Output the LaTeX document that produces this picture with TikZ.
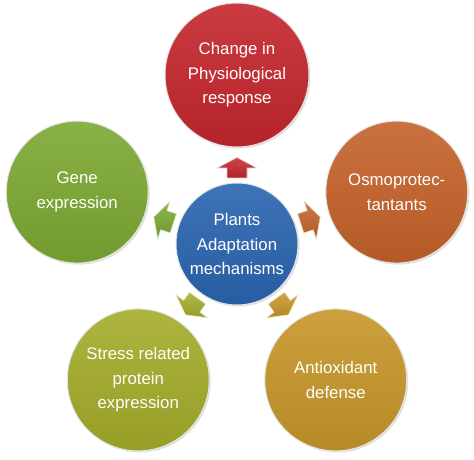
\documentclass[tikz,border=0pt]{standalone}
\usepackage{fontspec}
\setmainfont{Liberation Sans}
\usetikzlibrary{calc,shadows}
\definecolor{cred}{RGB}{196,38,44}
\definecolor{corange}{RGB}{196,98,42}
\definecolor{cgold}{RGB}{198,150,40}
\definecolor{cyg}{RGB}{164,172,42}
\definecolor{cgreen}{RGB}{124,168,50}
\definecolor{cblue}{RGB}{42,100,176}
\tikzset{
  bubble/.style={circle, inner sep=0pt, minimum size=#1, align=center,
    text=white, font=\fontsize{16.8}{24.5}\selectfont,
    draw=white!80!gray, line width=1pt,
    drop shadow={shadow xshift=1.5pt, shadow yshift=-1.5pt, opacity=0.25}},
  tint/.style={top color=#1!90!white, bottom color=#1!92!black},
  pics/blockarrow/.style={code={
    \shade[top color=#1!85!white, bottom color=#1!90!black, draw=white!70!#1, line width=0.6pt]
      (-10,-10) -- (0,-10) -- (0,-19.5) -- (10.5,0) -- (0,19.5) -- (0,10) -- (-10,10) -- cycle;}}
}
\begin{document}
\begin{tikzpicture}[x=1pt, y=1pt]
\useasboundingbox (0,0) rectangle (474,460);
\coordinate (o) at (237,216);
\node[bubble=122pt, tint=cblue] (c) at (o) {Plants\\Adaptation\\mechanisms};
\node[bubble=144pt, tint=cred] (top) at ($(o)+(90:169)$) {Change in\\Physiological\\response};
\node[bubble=142pt, tint=corange] (right) at ($(o)+(18:168)$) {Osmoprotec-\\tantants};
\node[bubble=142pt, tint=cgold] (br) at ($(o)+(-54:168)$) {Antioxidant\\defense};
\node[bubble=142pt, tint=cyg] (bl) at ($(o)+(234:168)$) {Stress related\\protein\\expression};
\node[bubble=142pt, tint=cgreen] (left) at ($(o)+(162:168)$) {Gene\\expression};
\pic[rotate=90] (a1) at ($(o)+(90:76)$) {blockarrow=cred};
\pic[rotate=18] (a2) at ($(o)+(18:77)$) {blockarrow=corange};
\pic[rotate=-54] (a3) at ($(o)+(-54:77)$) {blockarrow=cgold};
\pic[rotate=234] (a4) at ($(o)+(234:77)$) {blockarrow=cyg};
\pic[rotate=162] (a5) at ($(o)+(162:77)$) {blockarrow=cgreen};
\end{tikzpicture}
\end{document}
